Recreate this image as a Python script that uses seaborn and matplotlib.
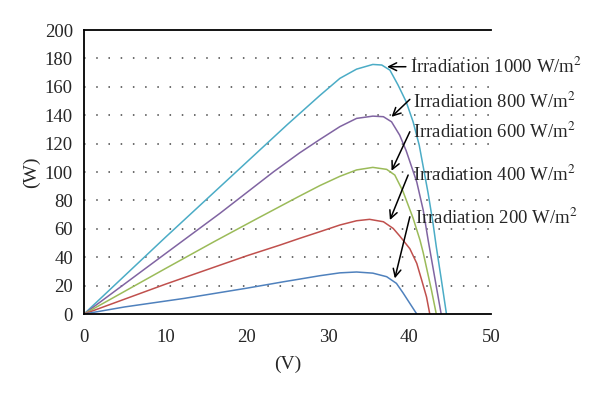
import pandas as pd
import numpy as np
import seaborn as sns
import matplotlib.pyplot as plt

# P-V curves (voltage in V, power in W)
v_1000 = [0, 10, 15, 20, 25, 29.0, 31.45, 33.5, 35.5, 36.6, 37.6, 38.6, 39.6, 40.45,
          41.2, 42.3, 42.9, 43.3, 43.9, 44.55]
p_1000 = [0, 54, 80.5, 107, 133.5, 154, 166, 172.5, 175.8, 175.4, 171.8, 161.3, 149.5, 135.4,
          119, 85, 63.9, 47.4, 25, 0]

v_800 = [0, 10, 16.7, 23.3, 26.5, 29.0, 31.45, 33.5, 35.5, 36.8, 37.8, 38.8, 39.6, 40.9,
         41.7, 42.3, 43.1, 43.9]
p_800 = [0, 42.5, 70.9, 100.2, 113.5, 123, 132, 137.8, 139.4, 139, 135.4, 126, 115, 93,
         73, 52, 26, 0]

v_600 = [0, 10, 16, 21.2, 26.3, 29.0, 31.45, 33.5, 35.5, 37.2, 38.2, 39.2, 40.45, 41.3,
         41.7, 42.7, 43.3]
p_600 = [0, 32, 51, 67, 82.5, 90.5, 97, 101.5, 103.3, 101.9, 97.9, 86.5, 67.5, 52,
         43, 17, 0]

v_400 = [0, 10, 20, 24.1, 26.5, 29.0, 31.45, 33.5, 35.1, 36.8, 38.0, 38.8, 40.05, 40.9,
         41.5, 42.1, 42.5]
p_400 = [0, 21, 41, 48.6, 53.3, 58, 62.7, 65.7, 66.7, 65, 60.3, 55, 46, 35.7,
         24, 12, 0]

v_200 = [0, 5, 12.3, 20, 24.6, 26.5, 29.0, 31.45, 33.5, 35.5, 37.2, 38.4, 39.2, 40.05, 40.9]
p_200 = [0, 5, 11, 18.2, 22.8, 24.6, 27, 29, 29.6, 28.8, 26.3, 21.6, 15, 7.5, 0]

labels = ["1000", "800", "600", "400", "200"]
colors = ["#4BACC6", "#8064A2", "#9BBB59", "#C0504D", "#4F81BD"]

# annotation text anchor and arrow tip / tail in data units
text_xy = [(40.05, 174.4), (40.4, 149.3), (40.4, 128.4), (40.4, 97.9), (40.66, 67.6)]
arrow_tip = [(37.26, 174.2), (37.8, 138.9), (37.8, 100.9), (37.6, 66.2), (38.2, 25.1)]
arrow_tail = [(39.56, 174.2), (40.05, 151.2), (40.05, 128.4), (39.84, 97.9), (40.05, 68.5)]

curves = [(v_1000, p_1000), (v_800, p_800), (v_600, p_600), (v_400, p_400), (v_200, p_200)]
frames = []
for lab, (v, p) in zip(labels, curves):
    frames.append(pd.DataFrame({"V": v, "P": p, "irr": lab}))
df = pd.concat(frames, ignore_index=True)

sns.set_style("white")
plt.rcParams['font.family'] = ['Liberation Serif', 'DejaVu Serif']
plt.rcParams['mathtext.fontset'] = 'stix'

fig = plt.figure(figsize=(6, 3.96), dpi=100)
ax = fig.add_axes([0.14, 0.207, 0.678, 0.717])

# dotted horizontal grid
for yv in range(20, 200, 20):
    ax.axhline(yv, color="#444444", lw=1.1, ls=(0, (1, 7)), zorder=0)

sns.lineplot(data=df, x="V", y="P", hue="irr", palette=dict(zip(labels, colors)),
             estimator=None, sort=False, legend=False, lw=1.1, ax=ax)

ax.set_xlim(0, 50)
ax.set_ylim(0, 200)
ax.set_xticks(np.arange(0, 51, 5))
ax.set_xticklabels([str(t) if t % 10 == 0 else "" for t in range(0, 51, 5)])
ax.set_yticks(np.arange(0, 201, 20))
ax.tick_params(axis="both", direction="out", length=5, width=1.2, color="black",
               labelsize=13.5, pad=3)
ax.tick_params(axis="x", pad=6)

for side in ["left", "bottom", "top"]:
    ax.spines[side].set_visible(True)
    ax.spines[side].set_color("black")
    ax.spines[side].set_linewidth(1.3)
ax.spines["right"].set_visible(False)

ax.set_xlabel("(V)", fontsize=14, labelpad=7)
ax.set_ylabel("(W)", fontsize=14, labelpad=3)

for lab, txy, tip, tail in zip(labels, text_xy, arrow_tip, arrow_tail):
    ax.annotate("", xy=tip, xytext=tail,
                arrowprops=dict(arrowstyle="->", color="black", lw=1.1,
                                shrinkA=0, shrinkB=0, mutation_scale=14),
                annotation_clip=False)
    ax.text(txy[0], txy[1], "Irradiation " + lab + r" W/m$^{2}$", fontsize=13.5,
            ha="left", va="center", clip_on=False)

plt.savefig("out.png", dpi=100)
